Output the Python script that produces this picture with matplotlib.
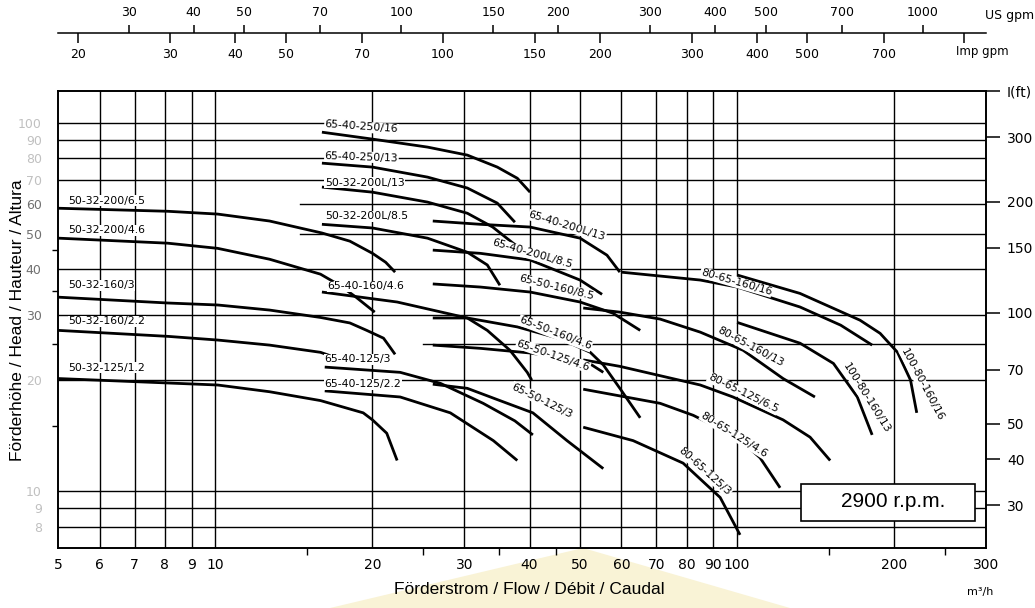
import matplotlib
matplotlib.use("Agg")
import matplotlib.pyplot as plt
from matplotlib.patches import Rectangle, Polygon
from matplotlib.ticker import NullLocator, FixedLocator, NullFormatter

plt.rcParams['font.family'] = ['DejaVu Sans']

# ---------------- data ----------------
flow_ticks = [5, 6, 7, 8, 9, 10, 20, 30, 40, 50, 60, 70, 80, 90, 100, 200, 300]
flow_minor = [15, 25, 35, 45, 150, 250]
head_m_ticks = [8, 9, 10, 20, 30, 40, 50, 60, 70, 80, 90, 100]
head_m_minor = [15, 25, 35, 45]
head_ft_ticks = [30, 40, 50, 70, 100, 150, 200, 300, 400]
head_ft_labels = ["30", "40", "50", "70", "100", "150", "200", "300", "I(ft)"]
us_gpm_ticks = [30, 40, 50, 70, 100, 150, 200, 300, 400, 500, 700, 1000]
imp_gpm_ticks = [20, 30, 40, 50, 70, 100, 150, 200, 300, 400, 500, 700, 1000]
imp_gpm_labels = ["20", "30", "40", "50", "70", "100", "150", "200", "300", "400", "500", "700", ""]

grid_flow = [6, 7, 8, 9, 10, 20, 30, 40, 50, 60, 70, 80, 90, 100, 200]
grid_head_full = [8, 9, 10, 20, 30, 40, 70, 80, 90, 100]
grid_head_mid = [50, 60]
grid_head_right = [25]

M3H_TO_USGPM = 4.4029
M3H_TO_IMPGPM = 3.6661
M_TO_FT = 3.2808

# pump curves: flow (m3/h), head (m)
q_50_32_200_65 = [5.0, 8.1, 10.1, 12.7, 16.0, 18.1, 20.0, 21.2, 22.1]
h_50_32_200_65 = [58.6, 57.5, 56.5, 54.1, 50.2, 47.7, 44.2, 41.8, 39.3]
q_50_32_200_46 = [5.0, 8.1, 10.1, 12.7, 15.9, 17.3, 18.6, 20.2]
h_50_32_200_46 = [48.6, 47.1, 45.6, 42.6, 38.8, 36.2, 33.6, 30.6]
q_50_32_160_3 = [5.0, 8.1, 10.1, 12.7, 15.9, 18.1, 19.5, 21.0, 21.6, 22.1]
h_50_32_160_3 = [33.6, 32.4, 32.0, 31.0, 29.6, 28.6, 27.3, 26.0, 24.6, 23.5]
q_50_32_160_22 = [5.0, 8.1, 10.1, 12.7, 15.9, 16.6]
h_50_32_160_22 = [27.3, 26.3, 25.7, 24.9, 23.8, 23.3]
q_50_32_125_12 = [5.0, 10.1, 12.7, 15.9, 19.2, 20.0, 21.3, 22.3]
h_50_32_125_12 = [20.2, 19.4, 18.6, 17.6, 16.3, 15.6, 14.35, 12.1]

q_65_40_250_16 = [16.0, 20.0, 25.5, 30.4, 34.7, 37.9, 40.1]
h_65_40_250_16 = [94.3, 90.3, 85.9, 81.7, 75.8, 70.7, 64.8]
q_65_40_250_13 = [16.0, 20.0, 25.5, 30.4, 34.7, 37.5]
h_65_40_250_13 = [77.7, 75.8, 71.2, 66.5, 60.5, 53.7]
q_50_32_200L_13 = [16.0, 20.0, 25.5, 30.4, 34.0, 37.2, 39.7]
h_50_32_200L_13 = [66.9, 64.8, 60.9, 56.8, 52.1, 47.1, 44.2]
q_50_32_200L_85 = [16.0, 20.0, 25.5, 30.4, 33.2, 35.1]
h_50_32_200L_85 = [53.0, 51.8, 48.6, 44.5, 41.1, 36.2]
q_65_40_160_46 = [16.0, 22.3, 30.4, 33.2, 36.7, 39.6, 40.4]
h_65_40_160_46 = [34.7, 32.6, 29.5, 27.3, 24.1, 21.0, 20.0]
q_65_40_125_3 = [16.2, 22.6, 27.0, 32.6, 37.5, 40.6]
h_65_40_125_3 = [21.7, 21.0, 19.6, 17.3, 15.5, 14.2]
q_65_40_125_22 = [16.2, 22.6, 28.2, 34.1, 37.9]
h_65_40_125_22 = [18.7, 18.0, 16.3, 13.7, 12.1]

q_65_40_200L_13 = [26.1, 32.2, 40.1, 50.0, 56.3, 59.6]
h_65_40_200L_13 = [54.1, 53.0, 52.1, 48.6, 43.7, 39.3]
q_65_40_200L_85 = [26.1, 32.2, 40.1, 50.0, 55.1]
h_65_40_200L_85 = [45.1, 44.2, 42.4, 37.4, 34.2]
q_65_50_160_85 = [26.1, 32.2, 40.1, 50.0, 57.8, 65.2]
h_65_50_160_85 = [36.5, 35.8, 34.7, 32.6, 30.4, 27.3]
q_65_50_160_46 = [26.1, 30.4, 37.9, 45.8, 52.3, 55.4, 59.6, 65.2]
h_65_50_160_46 = [29.5, 29.5, 27.9, 25.9, 23.8, 22.0, 19.0, 15.8]
q_65_50_125_46 = [26.1, 32.2, 40.1, 51.6, 55.4]
h_65_50_125_46 = [24.9, 24.4, 23.7, 22.4, 21.0]
q_65_50_125_3 = [26.1, 30.4, 35.1, 40.6, 47.2, 55.4]
h_65_50_125_3 = [19.5, 19.0, 17.6, 16.3, 13.7, 11.5]

q_80_65_160_16 = [59.9, 85.0, 100.0, 132.0, 158.0, 181.5]
h_80_65_160_16 = [39.3, 37.4, 35.8, 31.6, 28.2, 24.9]
q_80_65_160_13 = [50.7, 59.6, 71.2, 85.0, 102.7, 122.5, 141.0]
h_80_65_160_13 = [31.4, 30.6, 29.3, 27.0, 24.1, 20.2, 18.0]
q_80_65_125_65 = [50.7, 59.6, 85.0, 98.2, 122.5, 138.0, 150.8]
h_80_65_125_65 = [22.7, 21.8, 19.4, 18.0, 15.6, 14.0, 12.1]
q_80_65_125_46 = [50.7, 71.2, 82.4, 100.0, 110.7, 120.9]
h_80_65_125_46 = [18.9, 17.3, 16.05, 14.0, 12.3, 10.2]
q_80_65_125_3 = [50.7, 63.2, 78.8, 92.8, 101.3]
h_80_65_125_3 = [14.9, 13.7, 11.9, 9.6, 7.6]

q_100_80_160_16 = [100.0, 132.0, 172.0, 188.0, 203.0, 215.0, 221.0]
h_100_80_160_16 = [38.6, 34.4, 29.1, 26.8, 23.8, 20.0, 16.3]
q_100_80_160_13 = [100.0, 132.0, 153.0, 170.0, 181.5]
h_100_80_160_13 = [28.7, 25.2, 22.2, 18.0, 14.2]

curves = [
    (q_50_32_200_65, h_50_32_200_65), (q_50_32_200_46, h_50_32_200_46),
    (q_50_32_160_3, h_50_32_160_3), (q_50_32_160_22, h_50_32_160_22),
    (q_50_32_125_12, h_50_32_125_12),
    (q_65_40_250_16, h_65_40_250_16), (q_65_40_250_13, h_65_40_250_13),
    (q_50_32_200L_13, h_50_32_200L_13), (q_50_32_200L_85, h_50_32_200L_85),
    (q_65_40_160_46, h_65_40_160_46), (q_65_40_125_3, h_65_40_125_3),
    (q_65_40_125_22, h_65_40_125_22),
    (q_65_40_200L_13, h_65_40_200L_13), (q_65_40_200L_85, h_65_40_200L_85),
    (q_65_50_160_85, h_65_50_160_85), (q_65_50_160_46, h_65_50_160_46),
    (q_65_50_125_46, h_65_50_125_46), (q_65_50_125_3, h_65_50_125_3),
    (q_80_65_160_16, h_80_65_160_16), (q_80_65_160_13, h_80_65_160_13),
    (q_80_65_125_65, h_80_65_125_65), (q_80_65_125_46, h_80_65_125_46),
    (q_80_65_125_3, h_80_65_125_3),
    (q_100_80_160_16, h_100_80_160_16), (q_100_80_160_13, h_100_80_160_13),
]

# curve labels: text, flow, head, rotation, alignment
curve_labels = [
    ("50-32-200/6.5", 5.22, 61.5, 0, "left"),
    ("50-32-200/4.6", 5.22, 51.1, 0, "left"),
    ("50-32-160/3", 5.22, 36.2, 0, "left"),
    ("50-32-160/2.2", 5.22, 28.9, 0, "left"),
    ("50-32-125/1.2", 5.22, 21.6, 0, "left"),
    ("65-40-250/16", 16.2, 99.0, -4, "left"),
    ("65-40-250/13", 16.2, 81.4, -2, "left"),
    ("50-32-200L/13", 16.2, 68.8, 0, "left"),
    ("50-32-200L/8.5", 16.2, 55.8, 0, "left"),
    ("65-40-160/4.6", 16.4, 36.0, 0, "left"),
    ("65-40-125/3", 16.2, 22.8, 0, "left"),
    ("65-40-125/2.2", 16.2, 19.5, 0, "left"),
    ("65-40-200L/13", 47.2, 52.4, -17, "center"),
    ("65-40-200L/8.5", 40.45, 44.0, -16, "center"),
    ("65-50-160/8.5", 45.0, 35.8, -14, "center"),
    ("65-50-160/4.6", 44.8, 26.8, -21, "center"),
    ("65-50-125/4.6", 44.4, 23.35, -19, "center"),
    ("65-50-125/3", 42.3, 17.6, -26, "center"),
    ("80-65-160/16", 99.6, 36.9, -16, "center"),
    ("80-65-160/13", 105.9, 24.6, -28, "center"),
    ("80-65-125/6.5", 102.7, 18.4, -26, "center"),
    ("80-65-125/4.6", 98.7, 14.2, -32, "center"),
    ("80-65-125/3", 86.8, 11.3, -42, "center"),
    ("100-80-160/13", 176.7, 17.9, -58, "center"),
    ("100-80-160/16", 226.3, 19.4, -62, "center"),
]

# ---------------- figure ----------------
W_PX, H_PX = 1035, 608
fig = plt.figure(figsize=(W_PX / 100, H_PX / 100), dpi=100)
fig.patch.set_facecolor("white")

L = 58.4 / W_PX
R = 986.0 / W_PX
B = 1 - 548.0 / H_PX
T = 1 - 91.0 / H_PX

# faint watermark behind the axis title
fig.add_artist(Polygon([(330 / W_PX, 0), (583 / W_PX, 1 - 548 / H_PX), (790 / W_PX, 0)],
                       closed=True, transform=fig.transFigure,
                       facecolor="#f9f3d6", edgecolor="none", zorder=-5))

ax = fig.add_axes([L, B, R - L, T - B])
ax.set_xscale("log")
ax.set_yscale("log")
ax.set_xlim(5, 300)
ax.set_ylim(7, 122)

# grid
for q in grid_flow:
    ax.axvline(q, color="black", lw=1.0, zorder=1)
for h in grid_head_full:
    ax.axhline(h, color="black", lw=1.0, zorder=1)
for h in grid_head_mid:
    ax.plot([14.5, 300], [h, h], color="black", lw=1.0, zorder=1)
for h in grid_head_right:
    ax.plot([25, 300], [h, h], color="black", lw=1.0, zorder=1)

# curves
for q, h in curves:
    ax.plot(q, h, color="black", lw=2.0, zorder=3, solid_capstyle="butt",
            solid_joinstyle="round")

for text, q, h, rot, ha in curve_labels:
    ax.text(q, h, text, rotation=rot, rotation_mode="anchor", ha=ha, va="center",
            fontsize=7.8, zorder=5,
            bbox=dict(facecolor="white", edgecolor="none", pad=0.4))

# x axis
ax.xaxis.set_major_locator(FixedLocator(flow_ticks))
ax.set_xticklabels([str(v) for v in flow_ticks])
ax.xaxis.set_minor_locator(FixedLocator(flow_minor))
ax.xaxis.set_minor_formatter(NullFormatter())
ax.tick_params(axis="x", which="major", length=0, pad=7, labelsize=10)
ax.tick_params(axis="x", which="minor", length=5, width=1.0, direction="out")

# left axis (m)
ax.yaxis.set_major_locator(FixedLocator(head_m_ticks))
ax.set_yticklabels([str(v) for v in head_m_ticks])
ax.yaxis.set_minor_locator(FixedLocator(head_m_minor))
ax.yaxis.set_minor_formatter(NullFormatter())
ax.tick_params(axis="y", which="major", length=0, pad=12, labelsize=9)
ax.tick_params(axis="y", which="minor", length=4, width=1.0, direction="out")
for lab, v in zip(ax.get_yticklabels(), head_m_ticks):
    lab.set_color("#707070" if 30 <= v <= 60 else "#c0c0c0")

for s in ax.spines.values():
    s.set_linewidth(1.2)
    s.set_color("black")

# right axis (ft)
axr = ax.twinx()
axr.set_yscale("log")
axr.set_ylim(7 * M_TO_FT, 122 * M_TO_FT)
axr.yaxis.set_major_locator(FixedLocator(head_ft_ticks))
axr.set_yticklabels(head_ft_labels)
axr.yaxis.set_minor_locator(NullLocator())
axr.tick_params(axis="y", which="major", length=10, width=1.1, pad=5, labelsize=10)
for s in axr.spines.values():
    s.set_linewidth(1.2)

# 2900 rpm box
ax.add_patch(Rectangle((0.801, 0.0597), 0.187, 0.080, transform=ax.transAxes,
                       facecolor="white", edgecolor="black", lw=1.2, zorder=6))
ax.text(0.8997, 0.102, "2900 r.p.m.", transform=ax.transAxes, ha="center", va="center",
        fontsize=15, family=["Liberation Sans", "DejaVu Sans"], zorder=7)

# top gpm scales
y_line = 1 - 33.0 / H_PX
ax_us = fig.add_axes([L, y_line, R - L, 1e-5])
ax_us.set_xscale("log")
ax_us.set_xlim(5 * M3H_TO_USGPM, 300 * M3H_TO_USGPM)
ax_us.patch.set_visible(False)
ax_us.set_yticks([])
for k in ["left", "right", "bottom"]:
    ax_us.spines[k].set_visible(False)
ax_us.spines["top"].set_linewidth(1.1)
ax_us.xaxis.set_ticks_position("top")
ax_us.xaxis.set_major_locator(FixedLocator(us_gpm_ticks))
ax_us.set_xticklabels([str(v) for v in us_gpm_ticks])
ax_us.xaxis.set_minor_locator(NullLocator())
ax_us.tick_params(axis="x", which="major", direction="out", length=6, width=1.1,
                  pad=4, labelsize=9)

ax_imp = fig.add_axes([L, y_line, R - L, 1e-5])
ax_imp.set_xscale("log")
ax_imp.set_xlim(5 * M3H_TO_IMPGPM, 300 * M3H_TO_IMPGPM)
ax_imp.patch.set_visible(False)
ax_imp.set_yticks([])
for k in ["left", "right", "bottom", "top"]:
    ax_imp.spines[k].set_visible(False)
ax_imp.xaxis.set_ticks_position("bottom")
ax_imp.xaxis.set_major_locator(FixedLocator(imp_gpm_ticks))
ax_imp.set_xticklabels(imp_gpm_labels)
ax_imp.xaxis.set_minor_locator(NullLocator())
ax_imp.tick_params(axis="x", which="major", direction="out", length=7, width=1.1,
                   pad=4, labelsize=9)

fig.text(985 / W_PX, 1 - 15 / H_PX, "US gpm", ha="left", va="center", fontsize=9)
fig.text(956 / W_PX, 1 - 52 / H_PX, "Imp gpm", ha="left", va="center", fontsize=8.5)

# axis titles
fig.text(529 / W_PX, 1 - 590 / H_PX, "Förderstrom / Flow / Débit / Caudal",
         ha="center", va="center", fontsize=12.5, family=["Liberation Sans", "DejaVu Sans"])
fig.text(18 / W_PX, 1 - 320 / H_PX, "Förderhöhe / Head / Hauteur / Altura",
         ha="center", va="center", rotation=90, fontsize=12.5,
         family=["Liberation Sans", "DejaVu Sans"])
fig.text(980 / W_PX, 1 - 592 / H_PX, "m³/h", ha="center", va="center", fontsize=8)

fig.savefig("out.png", dpi=100)
